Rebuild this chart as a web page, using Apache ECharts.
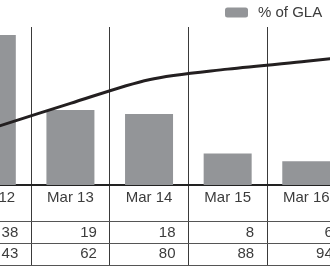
<!DOCTYPE html>
<html>
<head>
<meta charset="utf-8">
<script src="https://cdn.jsdelivr.net/npm/echarts@6/dist/echarts.min.js"></script>
<style>
  html, body { margin: 0; padding: 0; background: #fff; }
  #chartArea { width: 330px; height: 267px; }
</style>
</head>
<body>
<div id="chartArea"></div>
<script>
// Mar 17 sits just past the right edge; only the line's tail shows
var categories = ['Mar 12', 'Mar 13', 'Mar 14', 'Mar 15', 'Mar 16', 'Mar 17'];
var glaPct = [38, 19, 18, 8, 6, 6];
var cumulative = [43, 62, 80, 88, 94, 100];

var font = 'Liberation Sans, Arial, sans-serif';
var textColor = '#3c3c3c';
var vLine = { show: true, lineStyle: { color: '#3a3a3a', width: 1 } };

function makeGrid(top, height) {
    return { left: -47.5, right: -94.2, top: top, height: height, outerBoundsMode: 'none' };
}

function rowAxis(grid, values, margin) {
    return {
        type: 'category',
        gridIndex: grid,
        data: values,
        boundaryGap: true,
        axisLine: { show: true, lineStyle: { color: '#555', width: 1 } },
        axisTick: { show: false },
        splitLine: vLine,
        axisLabel: {
            show: margin !== null,
            margin: margin || 0,
            formatter: function(v) { return '{n|' + v + '}'; },
            rich: {
                n: { width: 53, align: 'right', fontSize: 15, lineHeight: 15,
                     fontFamily: font, color: textColor }
            }
        }
    };
}

var myChart = echarts.init(document.getElementById('chartArea'));

var option = {
    animation: false,
    legend: {
        data: ['% of GLA'],
        left: 225,
        top: 5,
        padding: 0,
        itemWidth: 23,
        itemHeight: 10,
        selectedMode: false,
        textStyle: { fontSize: 15, fontFamily: font, color: textColor, padding: [0, 0, 0, 5] }
    },
    grid: [
        makeGrid(27, 158),
        makeGrid(185, 36),
        makeGrid(221, 22),
        makeGrid(243, 22)
    ],
    xAxis: [
        {
            type: 'category',
            gridIndex: 0,
            data: categories,
            boundaryGap: true,
            axisLine: { show: true, lineStyle: { color: '#222', width: 2 } },
            axisTick: { show: false },
            splitLine: vLine,
            axisLabel: { margin: 5, fontSize: 15, lineHeight: 15, fontFamily: font, color: textColor }
        },
        rowAxis(1, glaPct, 4.5),
        rowAxis(2, cumulative, 3.5),
        rowAxis(3, categories, null)
    ],
    yAxis: [
        { type: 'value', gridIndex: 0, min: 0, max: 40, show: false },
        { type: 'value', gridIndex: 0, min: 0, max: 120, show: false },
        { type: 'value', gridIndex: 1, show: false },
        { type: 'value', gridIndex: 2, show: false },
        { type: 'value', gridIndex: 3, show: false }
    ],
    series: [
        {
            name: '% of GLA',
            type: 'bar',
            xAxisIndex: 0,
            yAxisIndex: 0,
            data: glaPct,
            barWidth: 48,
            itemStyle: { color: '#939598' }
        },
        {
            name: 'Cumulative',
            type: 'line',
            xAxisIndex: 0,
            yAxisIndex: 1,
            data: cumulative,
            smooth: 0.3,
            symbol: 'none',
            lineStyle: { color: '#231f20', width: 3 }
        }
    ]
};

myChart.setOption(option);
</script>
</body>
</html>
